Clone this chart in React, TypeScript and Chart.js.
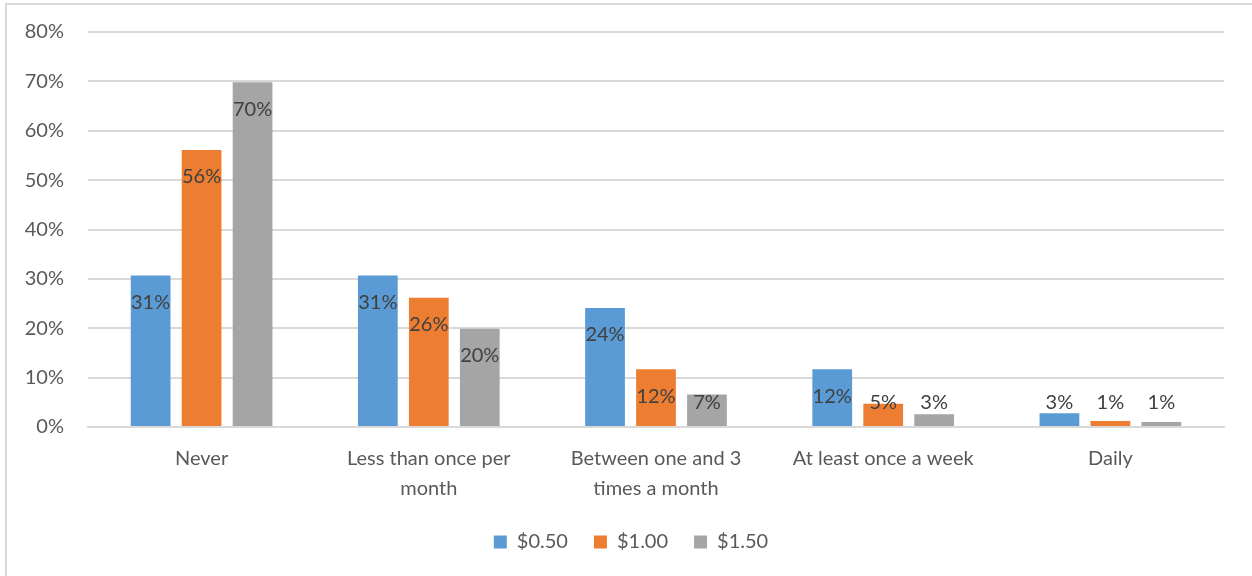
import React, { useEffect, useRef } from "react";
import { Chart, registerables } from "chart.js";

Chart.register(...registerables);

const categories: (string | string[])[] = [
  "Never",
  ["Less than once per", "month"],
  ["Between one and 3", "times a month"],
  "At least once a week",
  "Daily",
];
const seriesNames = ["$0.50", "$1.00", "$1.50"];
const values050 = [30.7, 30.7, 24.1, 11.7, 2.8];
const values100 = [56.1, 26.2, 11.7, 4.7, 1.2];
const values150 = [69.8, 19.9, 6.6, 2.6, 1.0];
const seriesColors = ["#5B9BD5", "#ED7D31", "#A5A5A5"];
const yTicks = [0, 10, 20, 30, 40, 50, 60, 70, 80];

const FONT = "Lato, 'Open Sans', sans-serif";

const dataLabelPlugin = {
  id: "dataLabels",
  afterDatasetsDraw(chart: any) {
    const ctx = chart.ctx;
    const yScale = chart.scales.y;
    const base = yScale.getPixelForValue(0);
    ctx.save();
    ctx.font = `20px ${FONT}`;
    ctx.fillStyle = "#404040";
    ctx.textAlign = "center";
    ctx.textBaseline = "middle";
    chart.data.datasets.forEach((ds: any, di: number) => {
      const meta = chart.getDatasetMeta(di);
      meta.data.forEach((bar: any, i: number) => {
        const v = ds.data[i];
        const y = Math.min(bar.y + 27, base - 24);
        ctx.fillText(Math.round(v) + "%", bar.x, y);
      });
    });
    ctx.restore();
  },
};

const legendShiftPlugin = {
  id: "legendShift",
  afterLayout(chart: any) {
    if (chart.legend) {
      chart.legend.left += 19;
      chart.legend.right += 19;
    }
  },
};

export default function App() {
  const canvasRef = useRef<HTMLCanvasElement | null>(null);

  useEffect(() => {
    if (!canvasRef.current) return;
    const seriesValues = [values050, values100, values150];
    const chart = new Chart(canvasRef.current, {
      type: "bar",
      data: {
        labels: categories,
        datasets: seriesNames.map((name, i) => ({
          label: name,
          data: seriesValues[i],
          backgroundColor: seriesColors[i],
          borderWidth: 0,
          categoryPercentage: 0.673,
          barPercentage: 0.78,
        })),
      },
      options: {
        animation: false,
        responsive: false,
        maintainAspectRatio: false,
        layout: { padding: { top: 22, right: 28, left: 0, bottom: 14 } },
        plugins: {
          legend: {
            position: "bottom",
            labels: {
              boxWidth: 13,
              boxHeight: 13,
              padding: 26,
              color: "#595959",
              font: { family: FONT, size: 20 },
            },
          },
          tooltip: { enabled: false },
        },
        scales: {
          x: {
            grid: { display: false, drawTicks: false },
            border: { display: true, color: "#D9D9D9", width: 2 },
            ticks: {
              color: "#595959",
              font: { family: FONT, size: 20, lineHeight: 1.5 },
              padding: 17,
              maxRotation: 0,
              autoSkip: false,
            },
            afterFit: (scale: any) => {
              scale.height = 79;
            },
          },
          y: {
            min: 0,
            max: 80,
            afterBuildTicks: (scale: any) => {
              scale.ticks = yTicks.map((v) => ({ value: v }));
            },
            grid: {
              color: "#D9D9D9",
              lineWidth: 2,
              drawTicks: true,
              tickLength: 4,
              tickColor: "rgba(0,0,0,0)",
            },
            border: { display: false },
            ticks: {
              color: "#595959",
              font: { family: FONT, size: 20 },
              padding: 20,
              callback: (v: any) => v + "%",
            },
            afterFit: (scale: any) => {
              scale.width = 88;
            },
          },
        },
      },
      plugins: [dataLabelPlugin, legendShiftPlugin],
    });
    return () => chart.destroy();
  }, []);

  return (
    <div
      style={{
        position: "fixed",
        left: 0,
        top: 0,
        width: 1252,
        height: 576,
        overflow: "hidden",
        background: "#fff",
      }}
    >
      <div
        style={{
          position: "absolute",
          left: 5,
          top: 3,
          width: 1300,
          height: 700,
          border: "2px solid #D9D9D9",
        }}
      />
      <canvas
        ref={canvasRef}
        width={1252}
        height={576}
        style={{ position: "absolute", left: 0, top: 0 }}
      />
    </div>
  );
}
